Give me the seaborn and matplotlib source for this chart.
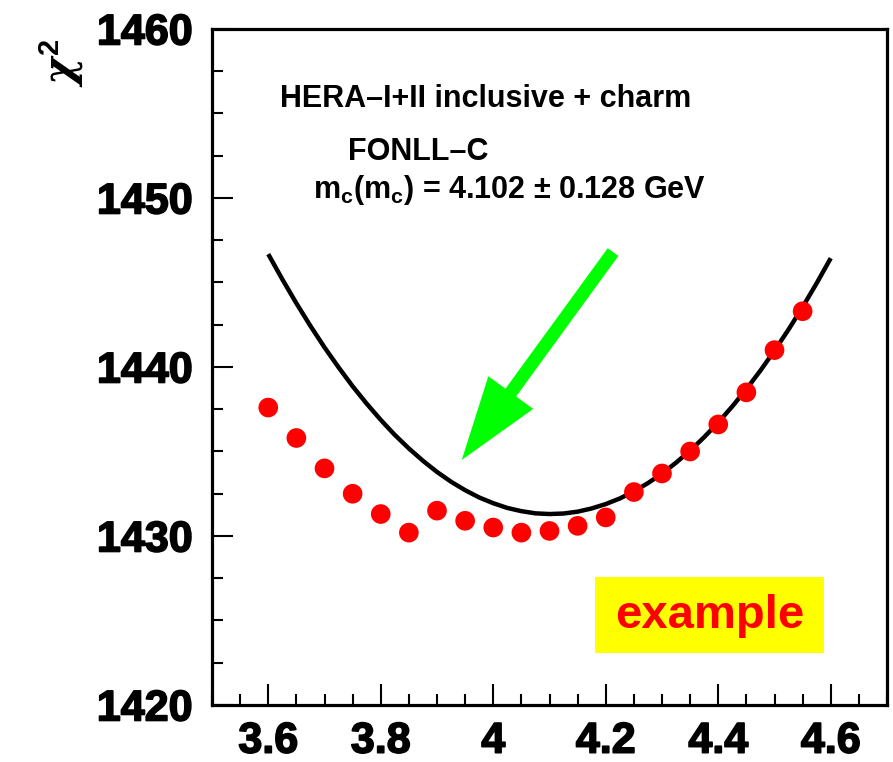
import matplotlib
matplotlib.use("Agg")
import matplotlib.pyplot as plt
import matplotlib.patheffects as pe
import seaborn as sns
import pandas as pd
from matplotlib.patches import Rectangle
from matplotlib.ticker import MultipleLocator, FixedLocator

# ---- data ----
mc_points = [3.60, 3.65, 3.70, 3.75, 3.80, 3.85, 3.90, 3.95, 4.00, 4.05,
             4.10, 4.15, 4.20, 4.25, 4.30, 4.35, 4.40, 4.45, 4.50, 4.55]
chi2_points = [1437.6, 1435.8, 1434.0, 1432.5, 1431.3, 1430.2, 1431.5, 1430.9, 1430.5, 1430.2,
               1430.3, 1430.6, 1431.1, 1432.6, 1433.7, 1435.0, 1436.6, 1438.5, 1441.0, 1443.3]

mc_curve = [3.600, 3.625, 3.650, 3.675, 3.700, 3.725, 3.750, 3.775, 3.800, 3.825,
            3.850, 3.875, 3.900, 3.925, 3.950, 3.975, 4.000, 4.025, 4.050, 4.075,
            4.100, 4.125, 4.150, 4.175, 4.200, 4.225, 4.250, 4.275, 4.300, 4.325,
            4.350, 4.375, 4.400, 4.425, 4.450, 4.475, 4.500, 4.525, 4.550, 4.575, 4.600]
chi2_curve = [1446.68, 1445.19, 1443.77, 1442.43, 1441.16, 1439.98, 1438.86, 1437.83, 1436.87, 1435.98,
              1435.18, 1434.45, 1433.79, 1433.21, 1432.71, 1432.28, 1431.94, 1431.66, 1431.47, 1431.34,
              1431.30, 1431.33, 1431.44, 1431.63, 1431.89, 1432.22, 1432.64, 1433.13, 1433.69, 1434.34,
              1435.05, 1435.85, 1436.72, 1437.67, 1438.69, 1439.79, 1440.97, 1442.22, 1443.55, 1444.96, 1446.44]

x_ticks = [3.6, 3.8, 4.0, 4.2, 4.4, 4.6]
x_tick_labels = ["3.6", "3.8", "4", "4.2", "4.4", "4.6"]
y_ticks = [1420, 1430, 1440, 1450, 1460]
y_tick_labels = ["1420", "1430", "1440", "1450", "1460"]

title_lines = ["HERA\u2013I+II inclusive + charm", "FONLL\u2013C",
               r"m$_{\mathrm{c}}$(m$_{\mathrm{c}}$) = 4.102 \u00b1 0.128 GeV".replace(r"\u00b1", "\u00b1")]

df_pts = pd.DataFrame({"mc": mc_points, "chi2": chi2_points})
df_fit = pd.DataFrame({"mc": mc_curve, "chi2": chi2_curve})

sns.set_style("ticks")
plt.rcParams["font.family"] = ["Liberation Sans", "DejaVu Sans"]
plt.rcParams["mathtext.fontset"] = "custom"
plt.rcParams["mathtext.rm"] = "Liberation Sans:bold"
plt.rcParams["mathtext.it"] = "DejaVu Serif:italic:bold"
plt.rcParams["mathtext.bf"] = "Liberation Sans:bold"
for key in ["text.color", "axes.labelcolor", "xtick.color", "ytick.color", "axes.edgecolor"]:
    plt.rcParams[key] = "black"

fig = plt.figure(figsize=(8.93, 7.62), dpi=100)
fig.patch.set_facecolor("white")
ax = fig.add_axes([212 / 893, 57 / 762, 675 / 893, 676 / 762])
ax.set_facecolor("white")

sns.lineplot(data=df_fit, x="mc", y="chi2", ax=ax, color="black", linewidth=3.2,
             sort=True, estimator=None, solid_joinstyle="round", solid_capstyle="butt")
sns.scatterplot(data=df_pts, x="mc", y="chi2", ax=ax, color="#ff0000", s=200,
                edgecolor="none", linewidth=0, zorder=3)

ax.set_xlim(3.5, 4.7)
ax.set_ylim(1420, 1460)
ax.xaxis.set_major_locator(FixedLocator(x_ticks))
ax.set_xticklabels(x_tick_labels)
ax.yaxis.set_major_locator(FixedLocator(y_ticks))
ax.set_yticklabels(y_tick_labels)
ax.xaxis.set_minor_locator(MultipleLocator(0.05))
ax.yaxis.set_minor_locator(MultipleLocator(2.5))

ax.tick_params(axis="both", which="major", direction="in", length=15, width=1.5,
               labelsize=31, top=False, right=False, color="black", labelcolor="black")
ax.tick_params(axis="both", which="minor", direction="in", length=8, width=1.5,
               top=False, right=False, color="black")
ax.tick_params(axis="y", which="major", pad=14)
ax.tick_params(axis="x", which="major", pad=12)
for lab in ax.get_xticklabels() + ax.get_yticklabels():
    lab.set_fontweight("bold")
    lab.set_path_effects([pe.withStroke(linewidth=1.2, foreground="black")])

for sp in ax.spines.values():
    sp.set_linewidth(2.3)
    sp.set_color("black")

ax.set_xlabel("")
ax.set_ylabel(r"$\chi^{2}$", fontsize=30, fontweight="bold", color="black")
ax.yaxis.set_label_coords(-0.186, 0.950)

# annotation text
ax.text(0.1006, 0.8846, title_lines[0], transform=ax.transAxes, fontsize=22,
        fontweight="bold", ha="left", va="baseline", color="black")
ax.text(0.2012, 0.806, title_lines[1], transform=ax.transAxes, fontsize=22,
        fontweight="bold", ha="left", va="baseline", color="black")
ax.text(0.149, 0.750, title_lines[2], transform=ax.transAxes, fontsize=22,
        fontweight="bold", ha="left", va="baseline", color="black")

# green arrow
ax.annotate("", xy=(3.944, 1434.5), xytext=(4.213, 1446.8),
            arrowprops=dict(arrowstyle="simple,head_length=6.0,head_width=4.0,tail_width=0.95",
                            color="#00ff00", shrinkA=0, shrinkB=0, mutation_scale=10,
                            linewidth=0))

# "example" label with yellow box
ax.add_patch(Rectangle((0.567, 0.077), 0.340, 0.112, transform=ax.transAxes,
                       facecolor="#ffff00", edgecolor="none", zorder=4))
ax.text(0.7367, 0.1139, "example", transform=ax.transAxes, fontsize=34,
        fontweight="bold", color="#ff0000", ha="center", va="baseline", zorder=5)

fig.savefig("out.png", dpi=100, facecolor="white")
